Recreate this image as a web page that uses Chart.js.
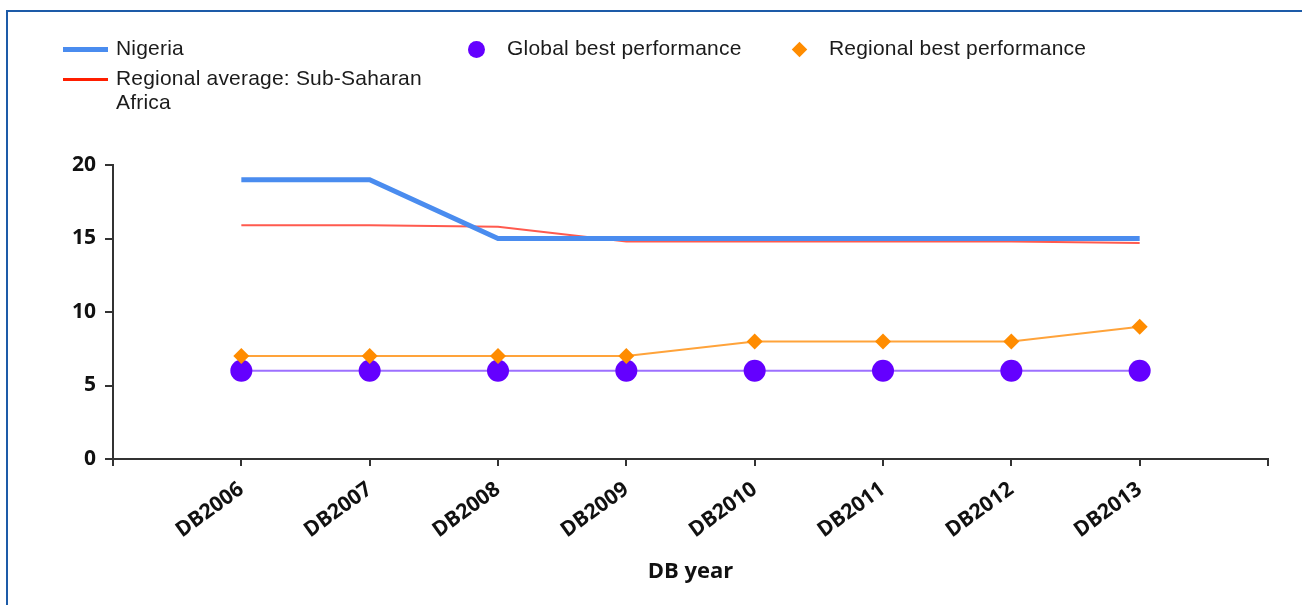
<!DOCTYPE html>
<html>
<head>
<meta charset="utf-8">
<script src="https://cdn.jsdelivr.net/npm/chart.js@4.4.0/dist/chart.umd.min.js"></script>
<style>
  body { margin: 0; background: #fff; }
  #wrap { position: relative; width: 1302px; height: 605px; overflow: hidden; }
  #frame { position: absolute; left: 6px; top: 10px; width: 1310px; height: 610px;
           border-top: 2px solid #1d5ba8; border-left: 2px solid #1d5ba8; pointer-events: none; }
  .lg { position: absolute; font-family: "Liberation Sans", Arial, sans-serif; font-size: 21px;
        letter-spacing: 0.2px; color: #1b1b1b; line-height: 24px; white-space: nowrap; }
  .mk { position: absolute; }
</style>
</head>
<body>
<div id="wrap">
  <canvas id="chart"></canvas>
  <div id="frame"></div>
  <div id="legend"></div>
</div>
<script>
// categories and series
const years = ["DB2006", "DB2007", "DB2008", "DB2009", "DB2010", "DB2011", "DB2012", "DB2013"];
const nigeria = [19, 19, 15, 15, 15, 15, 15, 15];
const regionalAvg = [15.9, 15.9, 15.8, 14.8, 14.8, 14.8, 14.8, 14.7];
const globalBest = [6, 6, 6, 6, 6, 6, 6, 6];
const regionalBest = [7, 7, 7, 7, 8, 8, 8, 9];
const yTicks = [0, 5, 10, 15, 20];

const pts = arr => arr.map((v, i) => ({ x: i, y: v }));

const tickFont = { family: "'Open Sans', 'DejaVu Sans', sans-serif", size: 21, weight: "bold" };

new Chart(document.getElementById("chart"), {
    type: "line",
    data: {
        datasets: [{
            label: "Nigeria",
            data: pts(nigeria),
            borderColor: "#4a8cef",
            borderWidth: 5,
            pointRadius: 0,
            order: 0
        }, {
            label: "Regional average: Sub-Saharan Africa",
            data: pts(regionalAvg),
            borderColor: "#ff5a4e",
            borderWidth: 2,
            pointRadius: 0,
            order: 1
        }, {
            label: "Global best performance",
            data: pts(globalBest),
            borderColor: "#9d70ff",
            borderWidth: 2,
            pointStyle: "circle",
            pointRadius: 11,
            pointBackgroundColor: "#6400ff",
            pointBorderColor: "#6400ff",
            pointBorderWidth: 0,
            order: 3
        }, {
            label: "Regional best performance",
            data: pts(regionalBest),
            borderColor: "#ffa33a",
            borderWidth: 2,
            pointStyle: "rectRot",
            pointRadius: 8,
            pointBackgroundColor: "#ff8c00",
            pointBorderColor: "#ff8c00",
            pointBorderWidth: 0,
            order: 2
        }]
    },
    options: {
        responsive: true,
        maintainAspectRatio: false,
        animation: false,
        layout: { padding: { top: 165, right: 34, bottom: 16, left: 0 } },
        plugins: { legend: { display: false }, tooltip: { enabled: false } },
        scales: {
            x: {
                type: "linear",
                min: -1,
                max: years.length,
                afterFit: s => { s.height = 130; },
                afterBuildTicks: s => { s.ticks = []; for (let i = -1; i <= years.length; i++) s.ticks.push({ value: i }); },
                grid: { drawOnChartArea: false, drawTicks: true, tickLength: 7, color: "#333", lineWidth: 2 },
                border: { color: "#333", width: 2 },
                ticks: {
                    autoSkip: false,
                    minRotation: 36,
                    maxRotation: 36,
                    color: "#111",
                    font: tickFont,
                    padding: 11,
                    callback: v => years[v] || ""
                },
                title: {
                    display: true,
                    text: "DB year",
                    color: "#111",
                    font: { family: "'Open Sans', 'DejaVu Sans', sans-serif", size: 22, weight: "bold" }
                }
            },
            y: {
                min: 0,
                max: 20,
                afterFit: s => { s.width = 113; },
                afterBuildTicks: s => { s.ticks = yTicks.map(v => ({ value: v })); },
                grid: { drawOnChartArea: false, drawTicks: true, tickLength: 8, color: "#333", lineWidth: 2 },
                border: { color: "#333", width: 2 },
                ticks: { color: "#111", font: tickFont, padding: 9 }
            }
        }
    }
});

// legend drawn as html text
const legendItems = [
    { text: "Nigeria", x: 116, y: 36, mark: { kind: "line", color: "#4a8cef", h: 5 } },
    { text: "Regional average: Sub-Saharan<br>Africa", x: 116, y: 66, mark: { kind: "line", color: "#ff1e00", h: 3 } },
    { text: "Global best performance", x: 507, y: 36, mark: { kind: "dot", color: "#6400ff", size: 17 } },
    { text: "Regional best performance", x: 829, y: 36, mark: { kind: "diamond", color: "#ff8c00", size: 11 } }
];
const lg = document.getElementById("legend");
legendItems.forEach(it => {
    const t = document.createElement("div");
    t.className = "lg";
    t.style.left = it.x + "px";
    t.style.top = it.y + "px";
    t.innerHTML = it.text;
    lg.appendChild(t);
    const m = document.createElement("div");
    m.className = "mk";
    const cy = it.y + 12;
    if (it.mark.kind === "line") {
        m.style.left = "63px"; m.style.width = "45px";
        m.style.top = (cy - it.mark.h / 2 + 1) + "px"; m.style.height = it.mark.h + "px";
        m.style.background = it.mark.color;
    } else if (it.mark.kind === "dot") {
        const s = it.mark.size;
        m.style.left = (it.x - 31 - s / 2) + "px"; m.style.top = (cy - s / 2 + 1) + "px";
        m.style.width = s + "px"; m.style.height = s + "px";
        m.style.borderRadius = "50%"; m.style.background = it.mark.color;
    } else {
        const s = it.mark.size;
        m.style.left = (it.x - 30 - s / 2) + "px"; m.style.top = (cy - s / 2 + 1) + "px";
        m.style.width = s + "px"; m.style.height = s + "px";
        m.style.transform = "rotate(45deg)"; m.style.background = it.mark.color;
    }
    lg.appendChild(m);
});
</script>
</body>
</html>
